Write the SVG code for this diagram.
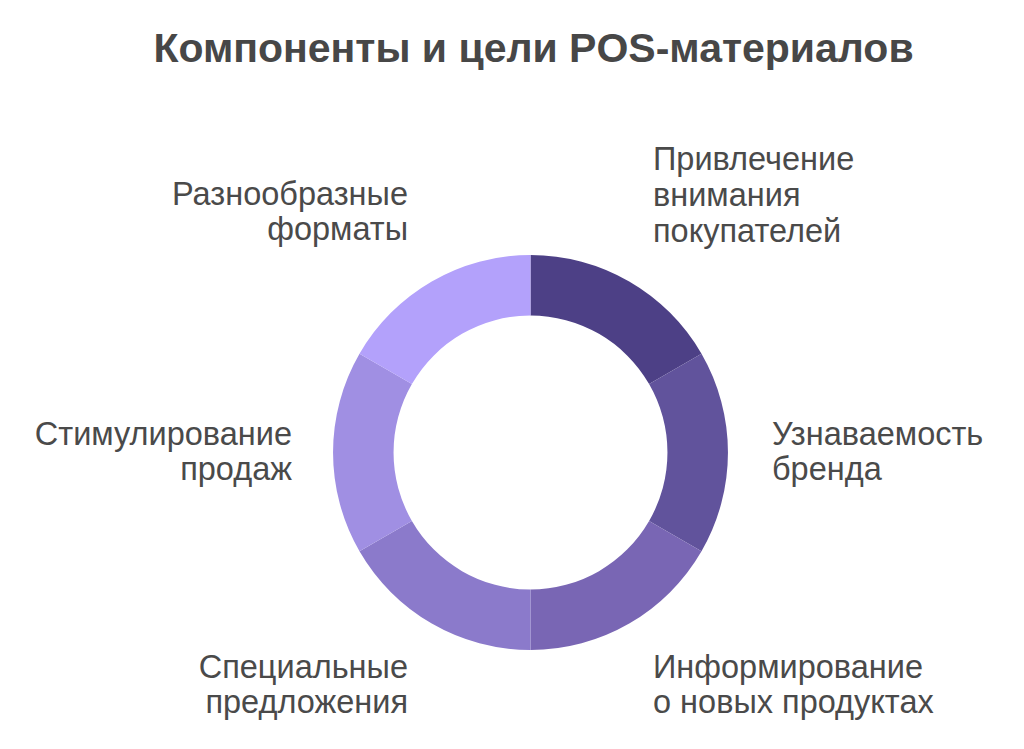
<svg xmlns="http://www.w3.org/2000/svg" width="1024" height="749" viewBox="0 0 1024 749">
<style>
.t{font-family:"Liberation Sans",Arial,sans-serif;font-size:32.5px;fill:#4a4a4a}
.ttl{font-family:"Liberation Sans",Arial,sans-serif;font-size:41px;font-weight:bold;fill:#474747}
.r{text-anchor:end}
</style>
<rect width="1024" height="749" fill="#ffffff"/>
<text class="ttl" x="533.5" y="62" text-anchor="middle">Компоненты и цели POS-материалов</text>
<g id="ring">
<g id="seg1"><path d="M530.5,255 A197.5,197.5 0 0 1 701.5,353.75 L649.1,384 A137,137 0 0 0 530.5,315.5 Z" fill="#4d4086"/></g>
<g id="seg2"><path d="M701.5,353.75 A197.5,197.5 0 0 1 701.5,551.25 L649.1,521 A137,137 0 0 0 649.1,384 Z" fill="#61539c"/></g>
<g id="seg3"><path d="M701.5,551.25 A197.5,197.5 0 0 1 530.5,650 L530.5,589.5 A137,137 0 0 0 649.1,521 Z" fill="#7966b4"/></g>
<g id="seg4"><path d="M530.5,650 A197.5,197.5 0 0 1 359.5,551.25 L411.9,521 A137,137 0 0 0 530.5,589.5 Z" fill="#8b7acb"/></g>
<g id="seg5"><path d="M359.5,551.25 A197.5,197.5 0 0 1 359.5,353.75 L411.9,384 A137,137 0 0 0 411.9,521 Z" fill="#a08fe3"/></g>
<g id="seg6"><path d="M359.5,353.75 A197.5,197.5 0 0 1 530.5,255 L530.5,315.5 A137,137 0 0 0 411.9,384 Z" fill="#b3a1fb"/></g>
</g>
<g id="connectors"></g>
<g id="label1"><text class="t" x="653" y="170">Привлечение</text><text class="t" x="653" y="206">внимания</text><text class="t" x="653" y="242">покупателей</text></g>
<g id="label2"><text class="t" x="772" y="445">Узнаваемость</text><text class="t" x="772" y="480">бренда</text></g>
<g id="label3"><text class="t" x="653" y="678">Информирование</text><text class="t" x="653" y="713">о новых продуктах</text></g>
<g id="label4"><text class="t r" x="408" y="678">Специальные</text><text class="t r" x="408" y="713">предложения</text></g>
<g id="label5"><text class="t r" x="292" y="445">Стимулирование</text><text class="t r" x="292" y="480">продаж</text></g>
<g id="label6"><text class="t r" x="408" y="205">Разнообразные</text><text class="t r" x="408" y="240">форматы</text></g>
</svg>
